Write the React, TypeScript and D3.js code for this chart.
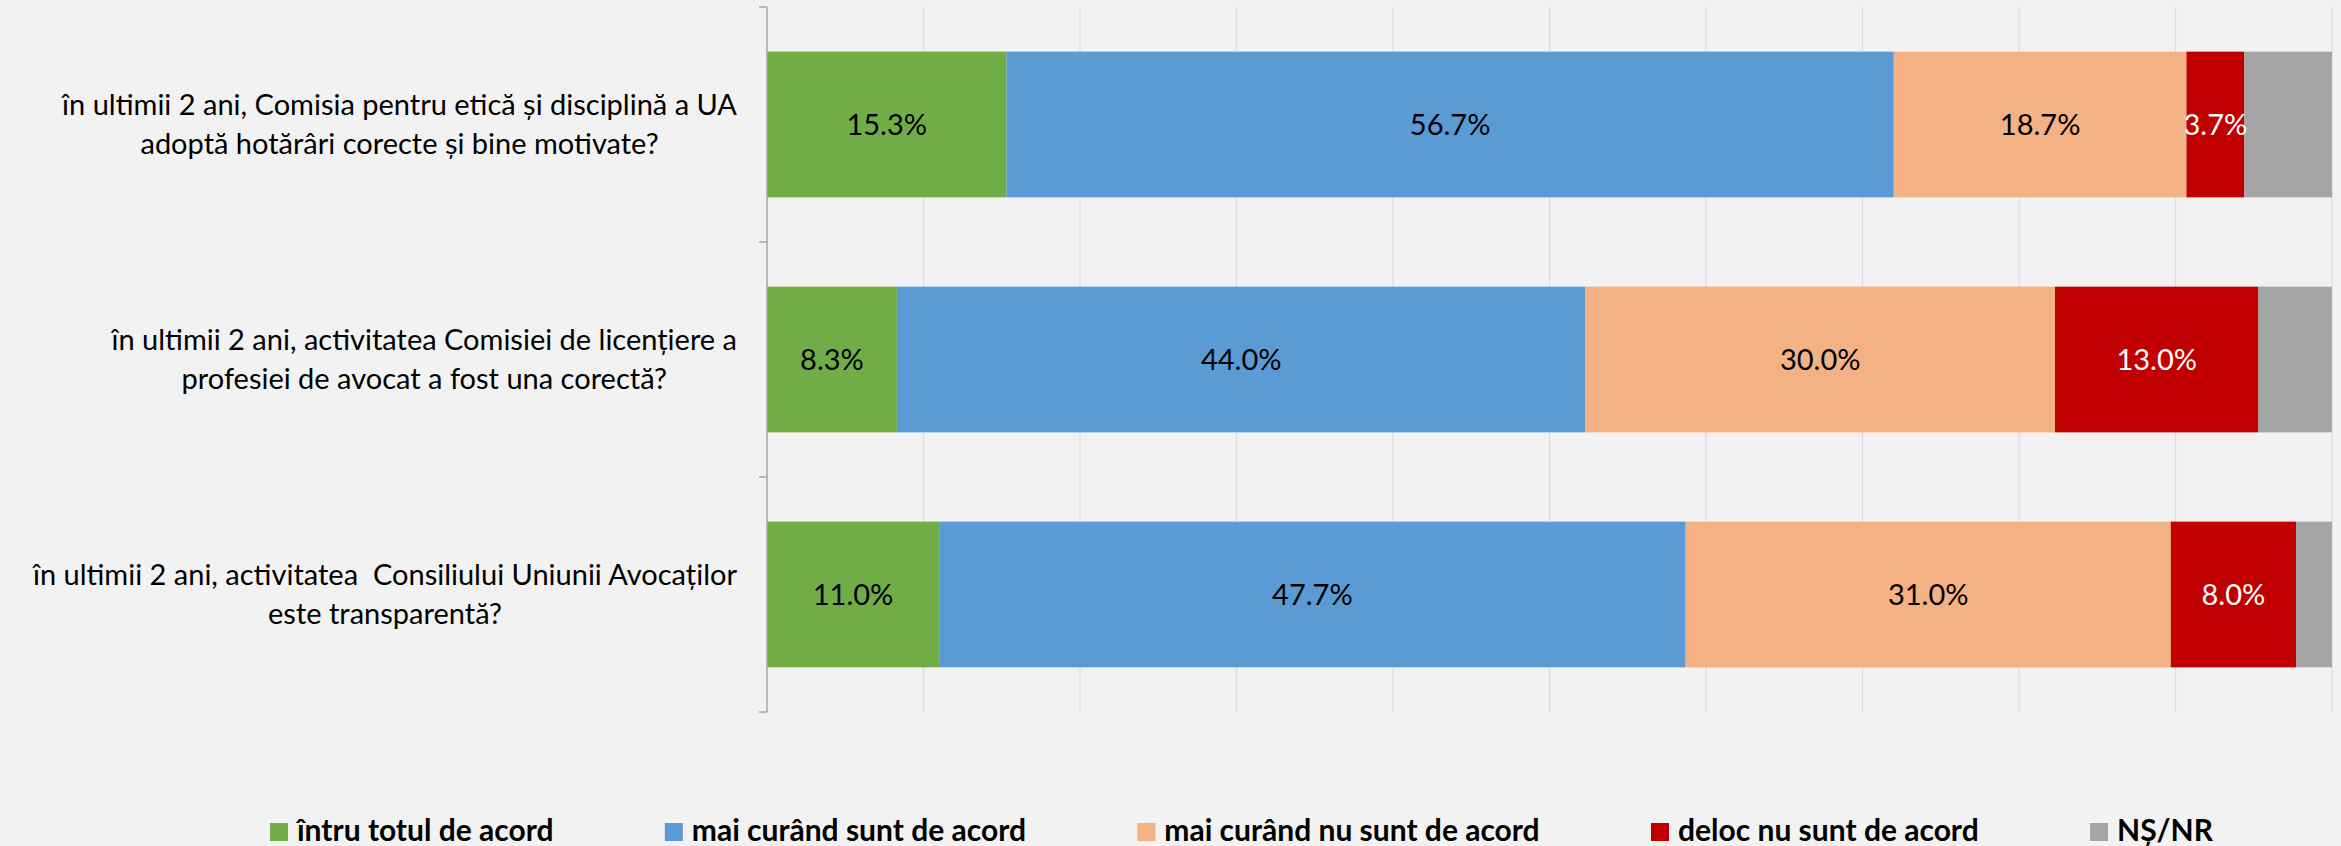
import React, { useEffect, useRef } from "react";
import * as d3 from "d3";

const categories: string[][] = [
  ["în ultimii 2 ani, Comisia pentru etică și disciplină a UA", "adoptă hotărâri corecte și bine motivate?"],
  ["în ultimii 2 ani, activitatea Comisiei de licențiere a", "profesiei de avocat a fost una corectă?"],
  ["în ultimii 2 ani, activitatea  Consiliului Uniunii Avocaților", "este transparentă?"],
];
const seriesNames: string[] = [
  "întru totul de acord",
  "mai curând sunt de acord",
  "mai curând nu sunt de acord",
  "deloc nu sunt de acord",
  "NȘ/NR",
];
const seriesColors: string[] = ["#70ad47", "#5b9bd5", "#f4b183", "#c00000", "#a5a5a5"];
const labelColors: string[] = ["#000000", "#000000", "#000000", "#ffffff", "#000000"];
const showLabel: boolean[] = [true, true, true, true, false];
const totalAcord: number[] = [15.3, 8.3, 11.0];
const maiCurandAcord: number[] = [56.7, 44.0, 47.7];
const maiCurandNu: number[] = [18.7, 30.0, 31.0];
const delocNu: number[] = [3.7, 13.0, 8.0];
const nsnr: number[] = [5.6, 4.7, 2.3];
const xTicks: number[] = [0, 10, 20, 30, 40, 50, 60, 70, 80, 90, 100];

const W = 2341;
const H = 846;
const FONT = "Lato, 'Open Sans', sans-serif";

export default function App() {
  const ref = useRef<SVGSVGElement | null>(null);

  useEffect(() => {
    document.body.style.margin = "0";
    const svg = d3.select(ref.current!);
    svg.selectAll("*").remove();

    svg.append("rect").attr("width", W).attr("height", H).attr("fill", "#f2f2f2");

    const x = d3.scaleLinear().domain([0, 100]).range([767, 2332]);
    const y = d3
      .scaleBand<number>()
      .domain(categories.map((_, i) => i))
      .range([7, 712])
      .paddingInner(0.38)
      .paddingOuter(0.19);

    const plotTop = 7;
    const plotBottom = 712;

    svg
      .append("g")
      .selectAll("line")
      .data(xTicks.filter((t) => t > 0))
      .join("line")
      .attr("x1", (d) => x(d))
      .attr("x2", (d) => x(d))
      .attr("y1", plotTop)
      .attr("y2", plotBottom)
      .attr("stroke", "#d9dde3")
      .attr("stroke-width", 1.3);

    const series = [totalAcord, maiCurandAcord, maiCurandNu, delocNu, nsnr];
    const rows = categories.map((_, i) => {
      const obj: Record<string, number> = {};
      series.forEach((s, k) => (obj["s" + k] = s[i]));
      return obj;
    });
    const stack = d3.stack<Record<string, number>>().keys(series.map((_, k) => "s" + k));
    const stacked = stack(rows);

    stacked.forEach((layer, k) => {
      const g = svg.append("g");
      g.selectAll("rect")
        .data(layer)
        .join("rect")
        .attr("x", (d) => x(d[0]))
        .attr("width", (d) => x(d[1]) - x(d[0]))
        .attr("y", (_, i) => y(i)!)
        .attr("height", y.bandwidth())
        .attr("fill", seriesColors[k]);
    });

    stacked.forEach((layer, k) => {
      if (!showLabel[k]) return;
      svg
        .append("g")
        .selectAll("text")
        .data(layer)
        .join("text")
        .attr("x", (d) => (x(d[0]) + x(d[1])) / 2)
        .attr("y", (_, i) => y(i)! + y.bandwidth() / 2)
        .attr("dy", "0.36em")
        .attr("text-anchor", "middle")
        .attr("font-family", FONT)
        .attr("font-size", 29)
        .attr("fill", labelColors[k])
        .text((_, i) => series[k][i].toFixed(1) + "%");
    });

    const axisG = svg.append("g");
    axisG
      .append("line")
      .attr("x1", x(0))
      .attr("x2", x(0))
      .attr("y1", plotTop)
      .attr("y2", plotBottom)
      .attr("stroke", "#a6a6a6")
      .attr("stroke-width", 1.5);
    const tickYs = d3.range(categories.length + 1).map((i) => plotTop + i * y.step());
    axisG
      .selectAll("line.tick")
      .data(tickYs)
      .join("line")
      .attr("class", "tick")
      .attr("x1", x(0) - 8)
      .attr("x2", x(0))
      .attr("y1", (d) => d)
      .attr("y2", (d) => d)
      .attr("stroke", "#a6a6a6")
      .attr("stroke-width", 1.5);

    categories.forEach((lines, i) => {
      const g = svg.append("g");
      const texts = lines.map((line, j) =>
        g
          .append("text")
          .attr("font-family", FONT)
          .attr("font-size", 29)
          .attr("fill", "#000")
          .attr("text-anchor", "middle")
          .style("white-space", "pre")
          .attr("y", y(i)! + y.bandwidth() / 2 - 9.5 + j * 39)
          .text(line)
      );
      const maxW = d3.max(texts, (t) => (t.node() as SVGTextElement).getComputedTextLength())!;
      const cx = x(0) - 30 - maxW / 2;
      texts.forEach((t) => t.attr("x", cx));
    });

    const lg = svg.append("g");
    const sq = 18;
    const gapSqText = 9;
    const items = seriesNames.map((name, k) => {
      const t = lg
        .append("text")
        .attr("font-family", FONT)
        .attr("font-weight", "bold")
        .attr("font-size", 30)
        .attr("fill", "#000")
        .attr("y", 841)
        .text(name);
      const w = (t.node() as SVGTextElement).getComputedTextLength();
      return { t, w, k };
    });
    const startX = 270;
    const endX = 2213;
    const used = d3.sum(items, (it) => sq + gapSqText + it.w);
    const gap = (endX - startX - used) / (items.length - 1);
    let cur = startX;
    items.forEach((it) => {
      lg.append("rect")
        .attr("x", cur)
        .attr("y", 823)
        .attr("width", sq)
        .attr("height", sq)
        .attr("fill", seriesColors[it.k]);
      it.t.attr("x", cur + sq + gapSqText);
      cur += sq + gapSqText + it.w + gap;
    });
  }, []);

  return <svg ref={ref} width={W} height={H} style={{ display: "block" }} />;
}
